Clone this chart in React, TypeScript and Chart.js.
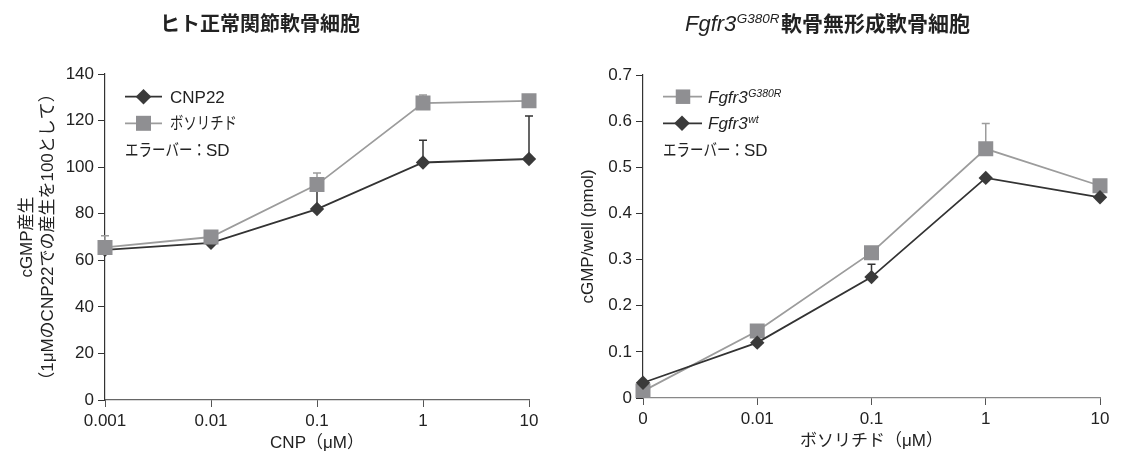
import React, { useEffect, useRef } from 'react';
import { Chart, registerables } from 'chart.js';

Chart.register(...registerables);

const FONT = "'Liberation Sans', 'Noto Sans CJK JP', sans-serif";
const LATIN = "'Liberation Sans', sans-serif";
const CJK = "'Noto Sans CJK JP', sans-serif";

// ---------- Left chart data (ヒト正常関節軟骨細胞) ----------
const cnpDoses = ['0.001', '0.01', '0.1', '1', '10'];
const cnp22Values = [64.5, 67.5, 82, 102, 103.5];
const cnp22Sd = [null, null, 8.5, 9.5, 18.5];
const vosoritideValues = [65.5, 70, 92.5, 127.5, 128.5];
const vosoritideSd = [5, 2.5, 5, 3.5, null];

// ---------- Right chart data (Fgfr3 G380R 軟骨無形成軟骨細胞) ----------
const vosoritideDoses = ['0', '0.01', '0.1', '1', '10'];
const g380rValues = [0.015, 0.145, 0.315, 0.54, 0.46];
const g380rSd = [null, null, null, 0.055, null];
const wtValues = [0.033, 0.12, 0.262, 0.477, 0.435];
const wtSd = [null, null, 0.028, null, null];

const GRAY_FILL = '#8f8f92';
const GRAY_LINE = '#9c9c9c';
const DARK_FILL = '#3a3a3a';
const DARK_LINE = '#333333';
const TEXT = '#222222';

type Run = { text: string; font: string; dy?: number; maxWidth?: number; gap?: number };

function drawRuns(ctx: CanvasRenderingContext2D, x: number, baseline: number, runs: Run[], align: 'left' | 'center' = 'left') {
  ctx.save();
  ctx.fillStyle = TEXT;
  ctx.textBaseline = 'alphabetic';
  ctx.textAlign = 'left';
  const widths = runs.map((r) => {
    ctx.font = r.font;
    const w = ctx.measureText(r.text).width;
    return (r.maxWidth ? Math.min(w, r.maxWidth) : w) + (r.gap || 0);
  });
  let cx = align === 'center' ? x - widths.reduce((a, b) => a + b, 0) / 2 : x;
  runs.forEach((r, i) => {
    ctx.font = r.font;
    if (r.maxWidth) ctx.fillText(r.text, cx, baseline + (r.dy || 0), r.maxWidth);
    else ctx.fillText(r.text, cx, baseline + (r.dy || 0));
    cx += widths[i];
  });
  ctx.restore();
}

function drawMarker(ctx: CanvasRenderingContext2D, kind: 'rect' | 'diamond', x: number, y: number, size: number, color: string) {
  ctx.save();
  ctx.fillStyle = color;
  ctx.beginPath();
  if (kind === 'rect') {
    ctx.rect(x - size / 2, y - size / 2, size, size);
  } else {
    ctx.moveTo(x, y - size);
    ctx.lineTo(x + size, y);
    ctx.lineTo(x, y + size);
    ctx.lineTo(x - size, y);
    ctx.closePath();
  }
  ctx.fill();
  ctx.restore();
}

function drawLegendLine(ctx: CanvasRenderingContext2D, x0: number, x1: number, y: number, color: string) {
  ctx.save();
  ctx.strokeStyle = color;
  ctx.lineWidth = 1.8;
  ctx.beginPath();
  ctx.moveTo(x0, y);
  ctx.lineTo(x1, y);
  ctx.stroke();
  ctx.restore();
}

const errorBarPlugin = {
  id: 'errorBars',
  beforeDatasetsDraw(chart: any) {
    const ctx = chart.ctx;
    const yScale = chart.scales.y;
    chart.data.datasets.forEach((ds: any, i: number) => {
      if (!ds.errors) return;
      const meta = chart.getDatasetMeta(i);
      ctx.save();
      ctx.strokeStyle = ds.errorColor;
      ctx.lineWidth = 1.5;
      meta.data.forEach((pt: any, j: number) => {
        const e = ds.errors[j];
        if (e == null) return;
        const top = yScale.getPixelForValue(ds.data[j] + e);
        ctx.beginPath();
        ctx.moveTo(pt.x, pt.y);
        ctx.lineTo(pt.x, top);
        ctx.moveTo(pt.x - 4, top);
        ctx.lineTo(pt.x + 4, top);
        ctx.stroke();
      });
      ctx.restore();
    });
  },
};

function axisFont(size = 17) {
  return { size, family: FONT };
}

function baseScales(opts: {
  labels: string[];
  yMin: number;
  yMax: number;
  yStep: number;
  yTitle: string | string[];
  yTitleLineHeight: number;
  yTitlePadTop: number;
  yWidth: number;
  xTitle: string;
  xTitlePadBottom: number;
  xHeight: number;
  yCallback?: (v: any) => string;
  xBorder: string;
}) {
  return {
    x: {
      type: 'category',
      offset: false,
      ticks: { font: axisFont(), color: TEXT, padding: 4, maxRotation: 0, autoSkip: false },
      grid: { drawOnChartArea: false, drawTicks: true, tickLength: 7, color: '#555', lineWidth: 1 },
      border: { display: true, color: opts.xBorder, width: 1.2 },
      title: {
        display: true,
        text: opts.xTitle,
        font: axisFont(),
        color: TEXT,
        padding: { top: 0, bottom: opts.xTitlePadBottom },
      },
      afterFit: (s: any) => {
        s.height = opts.xHeight;
      },
    },
    y: {
      min: opts.yMin,
      max: opts.yMax,
      ticks: {
        stepSize: opts.yStep,
        font: axisFont(),
        color: TEXT,
        padding: 4,
        ...(opts.yCallback ? { callback: opts.yCallback } : {}),
      },
      grid: { drawOnChartArea: false, drawTicks: true, tickLength: 7, color: '#333', lineWidth: 1 },
      border: { display: true, color: '#333', width: 1.2 },
      title: {
        display: true,
        text: opts.yTitle,
        font: { size: 17, family: FONT, lineHeight: opts.yTitleLineHeight },
        color: TEXT,
        padding: { top: opts.yTitlePadTop, bottom: 0 },
      },
      afterFit: (s: any) => {
        s.width = opts.yWidth;
      },
    },
  };
}

function lineDataset(label: string, data: number[], errors: (number | null)[], kind: 'rect' | 'diamond', order: number) {
  const gray = kind === 'rect';
  return {
    label,
    data,
    errors,
    errorColor: gray ? GRAY_LINE : DARK_LINE,
    borderColor: gray ? GRAY_LINE : DARK_LINE,
    backgroundColor: gray ? GRAY_FILL : DARK_FILL,
    borderWidth: 1.8,
    pointStyle: gray ? 'rect' : 'rectRot',
    pointRadius: gray ? 10.6 : 7.2,
    pointHoverRadius: gray ? 10.6 : 7.2,
    pointBorderWidth: 0,
    pointBackgroundColor: gray ? GRAY_FILL : DARK_FILL,
    tension: 0,
    order,
  };
}

export default function App() {
  const leftRef = useRef<HTMLCanvasElement | null>(null);
  const rightRef = useRef<HTMLCanvasElement | null>(null);

  useEffect(() => {
    Chart.defaults.font.family = FONT;
    Chart.defaults.color = TEXT;

    const leftDecor = {
      id: 'leftDecor',
      afterDraw(chart: any) {
        const ctx = chart.ctx;
        drawRuns(ctx, 260, 31, [{ text: 'ヒト正常関節軟骨細胞', font: `bold 20px ${CJK}` }], 'center');
        // legend
        drawLegendLine(ctx, 125, 162, 96.7, DARK_LINE);
        drawMarker(ctx, 'diamond', 143.5, 96.7, 7.8, DARK_FILL);
        drawRuns(ctx, 170, 102.8, [{ text: 'CNP22', font: `17px ${LATIN}` }]);
        drawLegendLine(ctx, 125, 162, 123.3, GRAY_LINE);
        drawMarker(ctx, 'rect', 143.5, 123.3, 15, GRAY_FILL);
        drawRuns(ctx, 170, 129.4, [{ text: 'ボソリチド', font: `17px ${CJK}`, maxWidth: 67 }]);
        drawRuns(ctx, 125, 156.1, [
          { text: 'エラーバー：', font: `17px ${CJK}`, maxWidth: 81 },
          { text: 'SD', font: `17px ${LATIN}` },
        ]);
      },
    };

    const rightDecor = {
      id: 'rightDecor',
      afterDraw(chart: any) {
        const ctx = chart.ctx;
        drawRuns(ctx, 125, 31, [
          { text: 'Fgfr3', font: `italic 22px ${LATIN}`, gap: 0.5 },
          { text: 'G380R', font: `italic 13.5px ${LATIN}`, dy: -8, gap: 1.5 },
          { text: '軟骨無形成軟骨細胞', font: `bold 21px ${CJK}` },
        ]);
        // legend
        drawLegendLine(ctx, 103, 142, 96.7, GRAY_LINE);
        drawMarker(ctx, 'rect', 123, 96.7, 14.5, GRAY_FILL);
        drawRuns(ctx, 148, 102.8, [
          { text: 'Fgfr3', font: `italic 17px ${LATIN}`, gap: 0.5 },
          { text: 'G380R', font: `italic 10.5px ${LATIN}`, dy: -6 },
        ]);
        drawLegendLine(ctx, 103, 142, 123.3, DARK_LINE);
        drawMarker(ctx, 'diamond', 122, 123.3, 7.8, DARK_FILL);
        drawRuns(ctx, 148, 129.4, [
          { text: 'Fgfr3', font: `italic 17px ${LATIN}`, gap: 0.5 },
          { text: 'wt', font: `italic 10.5px ${LATIN}`, dy: -6 },
        ]);
        drawRuns(ctx, 103, 156.1, [
          { text: 'エラーバー：', font: `17px ${CJK}`, maxWidth: 81 },
          { text: 'SD', font: `17px ${LATIN}` },
        ]);
      },
    };

    const left = new Chart(leftRef.current as HTMLCanvasElement, {
      type: 'line',
      data: {
        labels: cnpDoses,
        datasets: [
          lineDataset('CNP22', cnp22Values, cnp22Sd, 'diamond', 1),
          lineDataset('ボソリチド', vosoritideValues, vosoritideSd, 'rect', 0),
        ] as any,
      },
      options: {
        responsive: false,
        animation: false,
        layout: { padding: { left: 0, right: 31, top: 74, bottom: 0 } },
        plugins: { legend: { display: false }, tooltip: { enabled: false } },
        scales: baseScales({
          labels: cnpDoses,
          yMin: 0,
          yMax: 140,
          yStep: 20,
          yTitle: ['cGMP産生', '（1μMのCNP22での産生を100として）'],
          yTitleLineHeight: 21 / 17,
          yTitlePadTop: 16.5,
          yWidth: 105,
          xTitle: 'CNP（μM）',
          xTitlePadBottom: 1,
          xHeight: 55,
          xBorder: '#666',
        }) as any,
      },
      plugins: [errorBarPlugin, leftDecor],
    });

    const right = new Chart(rightRef.current as HTMLCanvasElement, {
      type: 'line',
      data: {
        labels: vosoritideDoses,
        datasets: [
          lineDataset('Fgfr3 G380R', g380rValues, g380rSd, 'rect', 1),
          lineDataset('Fgfr3 wt', wtValues, wtSd, 'diamond', 0),
        ] as any,
      },
      options: {
        responsive: false,
        animation: false,
        layout: { padding: { left: 0, right: 28, top: 75, bottom: 0 } },
        plugins: { legend: { display: false }, tooltip: { enabled: false } },
        scales: baseScales({
          labels: vosoritideDoses,
          yMin: 0,
          yMax: 0.7,
          yStep: 0.1,
          yTitle: 'cGMP/well (pmol)',
          yTitleLineHeight: 1.2,
          yTitlePadTop: 18.3,
          yWidth: 83,
          xTitle: 'ボソリチド（μM）',
          xTitlePadBottom: 3,
          xHeight: 57,
          yCallback: (v: any) => (Number(v) === 0 ? '0' : Number(v).toFixed(1)),
          xBorder: '#888',
        }) as any,
      },
      plugins: [errorBarPlugin, rightDecor],
    });

    return () => {
      left.destroy();
      right.destroy();
    };
  }, []);

  return (
    <div style={{ position: 'fixed', left: 0, top: 0, width: 1128, height: 455, background: '#fff', overflow: 'hidden' }}>
      <div style={{ position: 'absolute', left: 0, top: 0, width: 560, height: 455 }}>
        <canvas ref={leftRef} width={560} height={455} style={{ display: 'block' }} />
      </div>
      <div style={{ position: 'absolute', left: 560, top: 0, width: 568, height: 455 }}>
        <canvas ref={rightRef} width={568} height={455} style={{ display: 'block' }} />
      </div>
    </div>
  );
}
